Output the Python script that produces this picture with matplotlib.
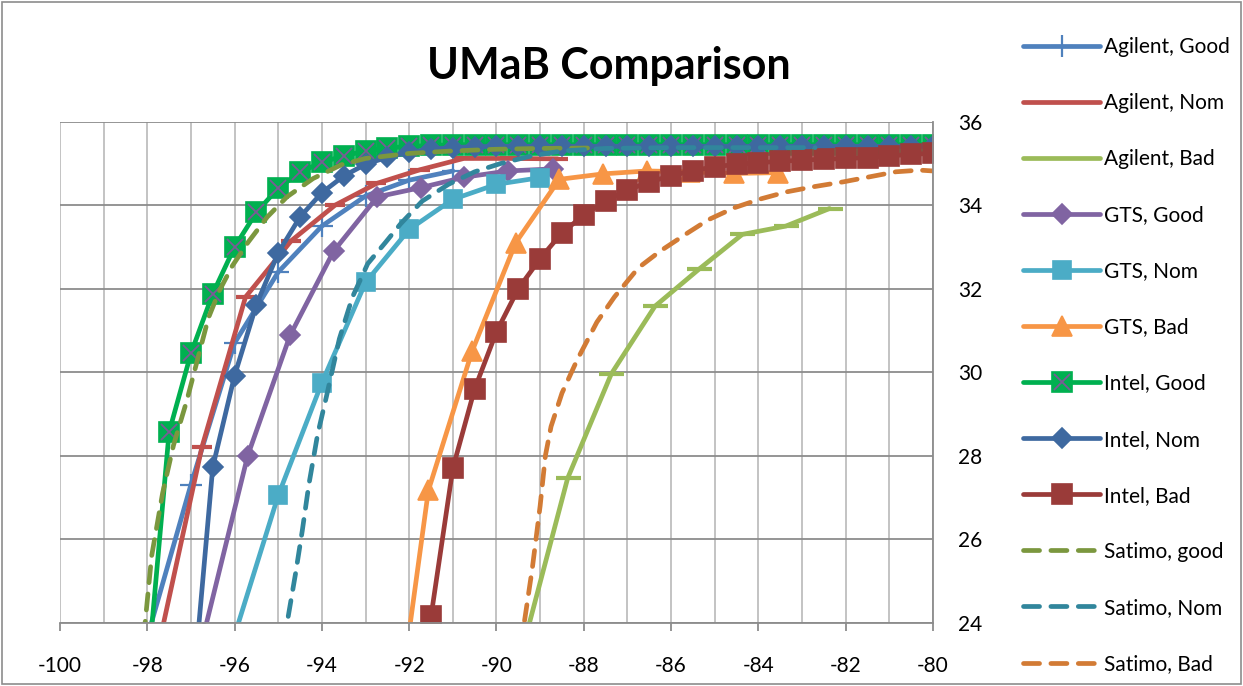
import matplotlib
matplotlib.use("Agg")
import matplotlib.pyplot as plt
from matplotlib.lines import Line2D
from matplotlib.patches import Rectangle
from matplotlib.ticker import MultipleLocator

plt.rcParams["font.family"] = ["Lato", "DejaVu Sans"]
plt.rcParams["axes.unicode_minus"] = False

# ---- data ----
AGILENT_GOOD_X = [-98.0, -97.0, -96.0, -95.0, -94.0, -93.0, -92.0, -91.0]
AGILENT_GOOD_Y = [23.65, 27.31, 30.7, 32.4, 33.5, 34.22, 34.6, 34.82]

AGILENT_NOM_X = [-97.75, -96.75, -95.75, -94.7, -93.7, -92.75, -91.75, -90.75, -89.7, -88.6]
AGILENT_NOM_Y = [23.4, 28.2, 31.8, 33.15, 34.0, 34.52, 34.85, 35.12, 35.12, 35.11]

AGILENT_BAD_X = [-89.37, -88.37, -87.37, -86.37, -85.37, -84.37, -83.37, -82.37]
AGILENT_BAD_Y = [23.5, 27.46, 29.96, 31.58, 32.46, 33.3, 33.5, 33.92]

GTS_GOOD_X = [-96.7, -95.7, -94.73, -93.73, -92.73, -91.74, -90.74, -89.74, -88.7]
GTS_GOOD_Y = [23.75, 28.0, 30.88, 32.9, 34.2, 34.42, 34.67, 34.82, 34.87]

GTS_NOM_X = [-96.0, -95.0, -94.0, -93.0, -92.0, -91.0, -90.0, -89.0]
GTS_NOM_Y = [23.7, 27.05, 29.75, 32.15, 33.42, 34.14, 34.5, 34.66]

GTS_BAD_X = [-92.56, -91.56, -90.56, -89.56, -88.56, -87.56, -86.56, -85.56, -84.56, -83.56]
GTS_BAD_Y = [19.5, 27.17, 30.5, 33.1, 34.62, 34.75, 34.82, 34.8, 34.76, 34.78]

INTEL_GOOD_X = [-98.0, -97.5, -97.0, -96.5, -96.0, -95.5, -95.0, -94.5, -94.0, -93.5,
                -93.0, -92.5, -92.0, -91.5, -91.0, -90.5, -90.0, -89.5, -89.0, -88.5,
                -88.0, -87.5, -87.0, -86.5, -86.0, -85.5, -85.0, -84.5, -84.0, -83.5,
                -83.0, -82.5, -82.0, -81.5, -81.0, -80.5, -80.0]
INTEL_GOOD_Y = [22.7, 28.57, 30.45, 31.88, 33.0, 33.83, 34.41, 34.79, 35.03, 35.18,
                35.3, 35.37, 35.41, 35.43, 35.45, 35.45, 35.45, 35.45, 35.45, 35.45,
                35.45, 35.45, 35.45, 35.45, 35.45, 35.45, 35.45, 35.45, 35.45, 35.45,
                35.45, 35.45, 35.45, 35.45, 35.45, 35.45, 35.45]

INTEL_NOM_X = [-97.0, -96.5, -96.0, -95.5, -95.0, -94.5, -94.0, -93.5, -93.0, -92.5,
               -92.0, -91.5, -91.0, -90.5, -90.0, -89.5, -89.0, -88.5, -88.0, -87.5,
               -87.0, -86.5, -86.0, -85.5, -85.0, -84.5, -84.0, -83.5, -83.0, -82.5,
               -82.0, -81.5, -81.0, -80.5, -80.0]
INTEL_NOM_Y = [21.8, 27.73, 29.92, 31.62, 32.86, 33.72, 34.3, 34.7, 34.98, 35.15,
               35.27, 35.34, 35.38, 35.4, 35.41, 35.41, 35.41, 35.41, 35.41, 35.41,
               35.41, 35.41, 35.41, 35.41, 35.41, 35.41, 35.41, 35.41, 35.41, 35.41,
               35.41, 35.41, 35.41, 35.41, 35.41]

INTEL_BAD_X = [-91.5, -91.0, -90.5, -90.0, -89.5, -89.0, -88.5, -88.0, -87.5, -87.0,
               -86.5, -86.0, -85.5, -85.0, -84.5, -84.0, -83.5, -83.0, -82.5, -82.0,
               -81.5, -81.0, -80.5, -80.0]
INTEL_BAD_Y = [24.15, 27.7, 29.6, 30.97, 32.0, 32.72, 33.34, 33.76, 34.1, 34.36,
               34.56, 34.7, 34.83, 34.92, 34.98, 35.02, 35.05, 35.08, 35.1, 35.12,
               35.14, 35.18, 35.22, 35.24]

SATIMO_GOOD_X = [-98.15, -98.05, -97.9, -97.65, -97.4, -97.1, -96.85, -96.6, -96.35,
                 -96.05, -95.7, -95.25, -94.8, -94.2, -93.55, -93.0, -92.0, -91.0,
                 -90.0, -89.0, -87.8]
SATIMO_GOOD_Y = [23.0, 24.0, 25.6, 27.1, 28.25, 29.3, 30.3, 31.3, 31.95,
                 32.55, 33.1, 33.72, 34.2, 34.64, 34.97, 35.12, 35.24, 35.3,
                 35.34, 35.36, 35.37]

SATIMO_NOM_X = [-94.85, -94.78, -94.6, -94.45, -94.3, -94.1, -93.9, -93.6, -93.3,
                -92.95, -92.55, -92.2, -91.7, -91.1, -90.5, -89.9, -89.2, -88.5,
                -87.5, -86.0, -84.0, -82.7]
SATIMO_NOM_Y = [23.5, 24.1, 25.2, 26.2, 27.3, 28.5, 29.4, 30.8, 31.8,
                32.6, 33.1, 33.55, 34.1, 34.5, 34.8, 35.0, 35.18, 35.3,
                35.36, 35.38, 35.38, 35.38]

SATIMO_BAD_X = [-89.45, -89.35, -89.18, -89.0, -88.88, -88.75, -88.5, -88.15, -87.7,
                -87.3, -86.75, -86.25, -85.6, -85.15, -84.55, -83.95, -83.35, -82.75,
                -82.05, -81.45, -80.85, -80.3, -80.0]
SATIMO_BAD_Y = [23.4, 24.1, 25.3, 26.8, 28.0, 28.7, 29.5, 30.3, 31.2,
                31.8, 32.5, 32.9, 33.35, 33.65, 33.94, 34.15, 34.32, 34.44,
                34.56, 34.68, 34.8, 34.84, 34.82]

LW = 3.4
DASHES = (3.4, 2.4)

fig = plt.figure(figsize=(12.43, 6.86), dpi=100)
ax = fig.add_axes([60 / 1243, 1 - 622.7 / 686, 873 / 1243, 501 / 686])

handles = []
labels = []


def add(x, y, label, color, marker=None, ms=12, dashed=False):
    kw = dict(color=color, lw=LW, solid_capstyle="round", solid_joinstyle="round")
    if marker:
        kw.update(marker=marker, markersize=ms, markerfacecolor=color,
                  markeredgecolor=color, markeredgewidth=1.2)
    if dashed:
        kw.update(linestyle=(0, DASHES), dash_capstyle="round")
    line, = ax.plot(x, y, **kw)
    handles.append(line)
    labels.append(label)
    return line


ag = add(AGILENT_GOOD_X, AGILENT_GOOD_Y, "Agilent, Good", "#4F81BD")
ax.plot(AGILENT_GOOD_X, AGILENT_GOOD_Y, ls="none", marker="+", ms=16, mew=1.6, color="#4F81BD")
handles[-1] = (ag, Line2D([], [], ls="none", marker="+", ms=16, mew=1.6, color="#4F81BD"))

add(AGILENT_NOM_X, AGILENT_NOM_Y, "Agilent, Nom", "#C0504D")
ax.plot(AGILENT_NOM_X, AGILENT_NOM_Y, ls="none", marker="_", ms=14, mew=3, color="#C0504D")

add(AGILENT_BAD_X, AGILENT_BAD_Y, "Agilent, Bad", "#9BBB59")
ax.plot(AGILENT_BAD_X, AGILENT_BAD_Y, ls="none", marker="_", ms=18, mew=3, color="#9BBB59")

add(GTS_GOOD_X, GTS_GOOD_Y, "GTS, Good", "#8064A2", marker="D", ms=10.5)
add(GTS_NOM_X, GTS_NOM_Y, "GTS, Nom", "#4BACC6", marker="s", ms=13.5)
add(GTS_BAD_X, GTS_BAD_Y, "GTS, Bad", "#F79646", marker="^", ms=14.5)

ig = add(INTEL_GOOD_X, INTEL_GOOD_Y, "Intel, Good", "#00B050", marker="s", ms=14.5)
ax.plot(INTEL_GOOD_X, INTEL_GOOD_Y, ls="none", marker="x", ms=11.5, mew=1.3, color="#7B5A96")
handles[-1] = (ig, Line2D([], [], ls="none", marker="x", ms=11.5, mew=1.3, color="#7B5A96"))

add(INTEL_NOM_X, INTEL_NOM_Y, "Intel, Nom", "#3E69A0", marker="D", ms=10.5)
add(INTEL_BAD_X, INTEL_BAD_Y, "Intel, Bad", "#9A3B39", marker="s", ms=15)

add(SATIMO_GOOD_X, SATIMO_GOOD_Y, "Satimo, good", "#7B973E", dashed=True)
add(SATIMO_NOM_X, SATIMO_NOM_Y, "Satimo, Nom", "#31869C", dashed=True)
add(SATIMO_BAD_X, SATIMO_BAD_Y, "Satimo, Bad", "#D27B35", dashed=True)

ax.set_xlim(-100, -80)
ax.set_ylim(24, 36)
ax.xaxis.set_major_locator(MultipleLocator(2))
ax.xaxis.set_minor_locator(MultipleLocator(1))
ax.yaxis.set_major_locator(MultipleLocator(2))
ax.yaxis.tick_right()
ax.grid(True, which="major", axis="y", color="#8C8C8C", lw=1.3)
ax.grid(True, which="both", axis="x", color="#BEBEBE", lw=1.3)
ax.set_axisbelow(True)
for side in ("left", "top"):
    ax.spines[side].set_visible(False)
for side in ("bottom", "right"):
    ax.spines[side].set_color("#8C8C8C")
    ax.spines[side].set_linewidth(1.3)
ax.tick_params(axis="x", which="major", length=6, width=1.3, color="#8C8C8C",
               labelsize=15, pad=18)
ax.tick_params(axis="x", which="minor", length=0)
ax.tick_params(axis="y", length=0, labelsize=15, pad=18)

fig.text(0.49, 1 - 66 / 686, "UMaB Comparison", ha="center", va="center",
         fontsize=31, fontweight="bold")

fig.legend(handles, labels, loc="upper left", bbox_to_anchor=(1015 / 1243, 1 - 29 / 686),
           frameon=False, fontsize=15, labelspacing=1.73, handlelength=3.7,
           handletextpad=0.15, borderaxespad=0, numpoints=1)

fig.patches.append(Rectangle((0.002, 0.003), 0.996, 0.994, transform=fig.transFigure,
                             fill=False, edgecolor="#8C8C8C", lw=1.2))

fig.savefig("out.png", dpi=100)
